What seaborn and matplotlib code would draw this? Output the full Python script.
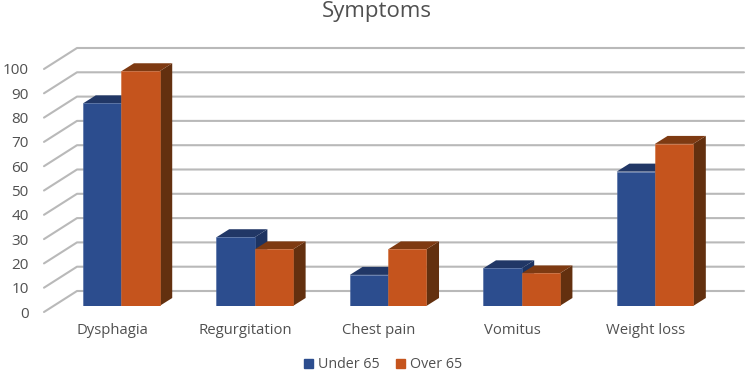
import matplotlib
matplotlib.use("Agg")
import matplotlib.pyplot as plt
import matplotlib.transforms as mtransforms
from matplotlib.patches import Polygon
import pandas as pd
import seaborn as sns

categories = ["Dysphagia", "Regurgitation", "Chest pain", "Vomitus", "Weight loss"]
under_65 = [83.4, 28.3, 12.8, 15.5, 55.3]
over_65 = [96.6, 23.3, 23.3, 13.4, 66.7]
y_ticks = list(range(0, 101, 10))

df = pd.DataFrame({
    "symptom": categories * 2,
    "group": ["Under 65"] * 5 + ["Over 65"] * 5,
    "value": under_65 + over_65,
})

sns.set_theme(style="white")
plt.rcParams["font.family"] = ["Open Sans", "DejaVu Sans"]

W, H = 751, 374
fig = plt.figure(figsize=(W / 100, H / 100), dpi=100)
ax = fig.add_axes([54.6 / W, 1 - 306 / H, 667 / W, 243 / H])

colors = {"Under 65": "#2C4D8E", "Over 65": "#C5541D"}
sns.barplot(data=df, x="symptom", y="value", hue="group", palette=colors,
            width=0.573, gap=0, saturation=1, ax=ax, legend=False, zorder=3)
ax.set_xlim(-0.5, 4.5)
ax.set_ylim(0, 100)
ax.set_xlabel("")
ax.set_ylabel("")
sns.despine(ax=ax, left=True, bottom=True)

# fake 3d: depth offsets in data units
px_x = 5 / 667
px_y = 100 / 243
bar_dx, bar_dy = 12.7 * px_x, 8 * px_y
back_dx, back_dy = 22.4 * px_x, 15 * px_y
front_dx, front_dy = -10.6 * px_x, -6 * px_y

for t in y_ticks:
    left_f = (-0.5 + front_dx, t + front_dy)
    left_b = (-0.5 + back_dx, t + back_dy)
    right_b = (4.5 + back_dx, t + back_dy)
    ax.plot([left_f[0], left_b[0], right_b[0]], [left_f[1], left_b[1], right_b[1]],
            color="#B9B9B9", lw=1.5, clip_on=False, zorder=1)

side_cols = [("#1D3361", "#213766"), ("#63300F", "#7E3A12")]
for i, cont in enumerate(ax.containers):
    side_col, top_col = side_cols[i]
    for bar in cont:
        bar.set_zorder(3 + 2 * i)
        bar.set_edgecolor("#4A67A0" if i == 0 else "#D06C38")
        bar.set_linewidth(0.4)
        x0, x1 = bar.get_x(), bar.get_x() + bar.get_width()
        h = bar.get_height()
        side = [(x1, 0), (x1 + bar_dx, bar_dy), (x1 + bar_dx, h + bar_dy), (x1, h)]
        top = [(x0, h), (x0 + bar_dx, h + bar_dy), (x1 + bar_dx, h + bar_dy), (x1, h)]
        ax.add_patch(Polygon(side, color=side_col, lw=0, clip_on=False, zorder=2.9 + 2 * i))
        ax.add_patch(Polygon(top, color=top_col, lw=0, clip_on=False, zorder=2.9 + 2 * i))

ax.set_yticks(y_ticks)
ax.tick_params(axis="both", length=0, labelcolor="#505050", labelsize=10.7)
ax.tick_params(axis="y", labelsize=11)

# move tick labels out to the front edge of the floor
for lab in ax.get_xticklabels():
    lab.set_transform(lab.get_transform() + mtransforms.Affine2D().translate(-9, -12))
for lab in ax.get_yticklabels():
    lab.set_transform(lab.get_transform() + mtransforms.Affine2D().translate(-21, -6))

fig.text(377 / W, 1 - 12 / H, "Symptoms", ha="center", va="center", fontsize=16, color="#505050")

handles = [plt.Rectangle((0, 0), 1, 1, color=colors[k]) for k in colors]
fig.legend(handles, list(colors), loc="center", bbox_to_anchor=(383 / W, 1 - 365 / H), ncols=2,
           frameon=False, fontsize=10.3, labelcolor="#505050", handlelength=0.65, handleheight=0.65,
           handletextpad=0.35, columnspacing=1.1, borderpad=0)

fig.savefig("out.png", dpi=100)
